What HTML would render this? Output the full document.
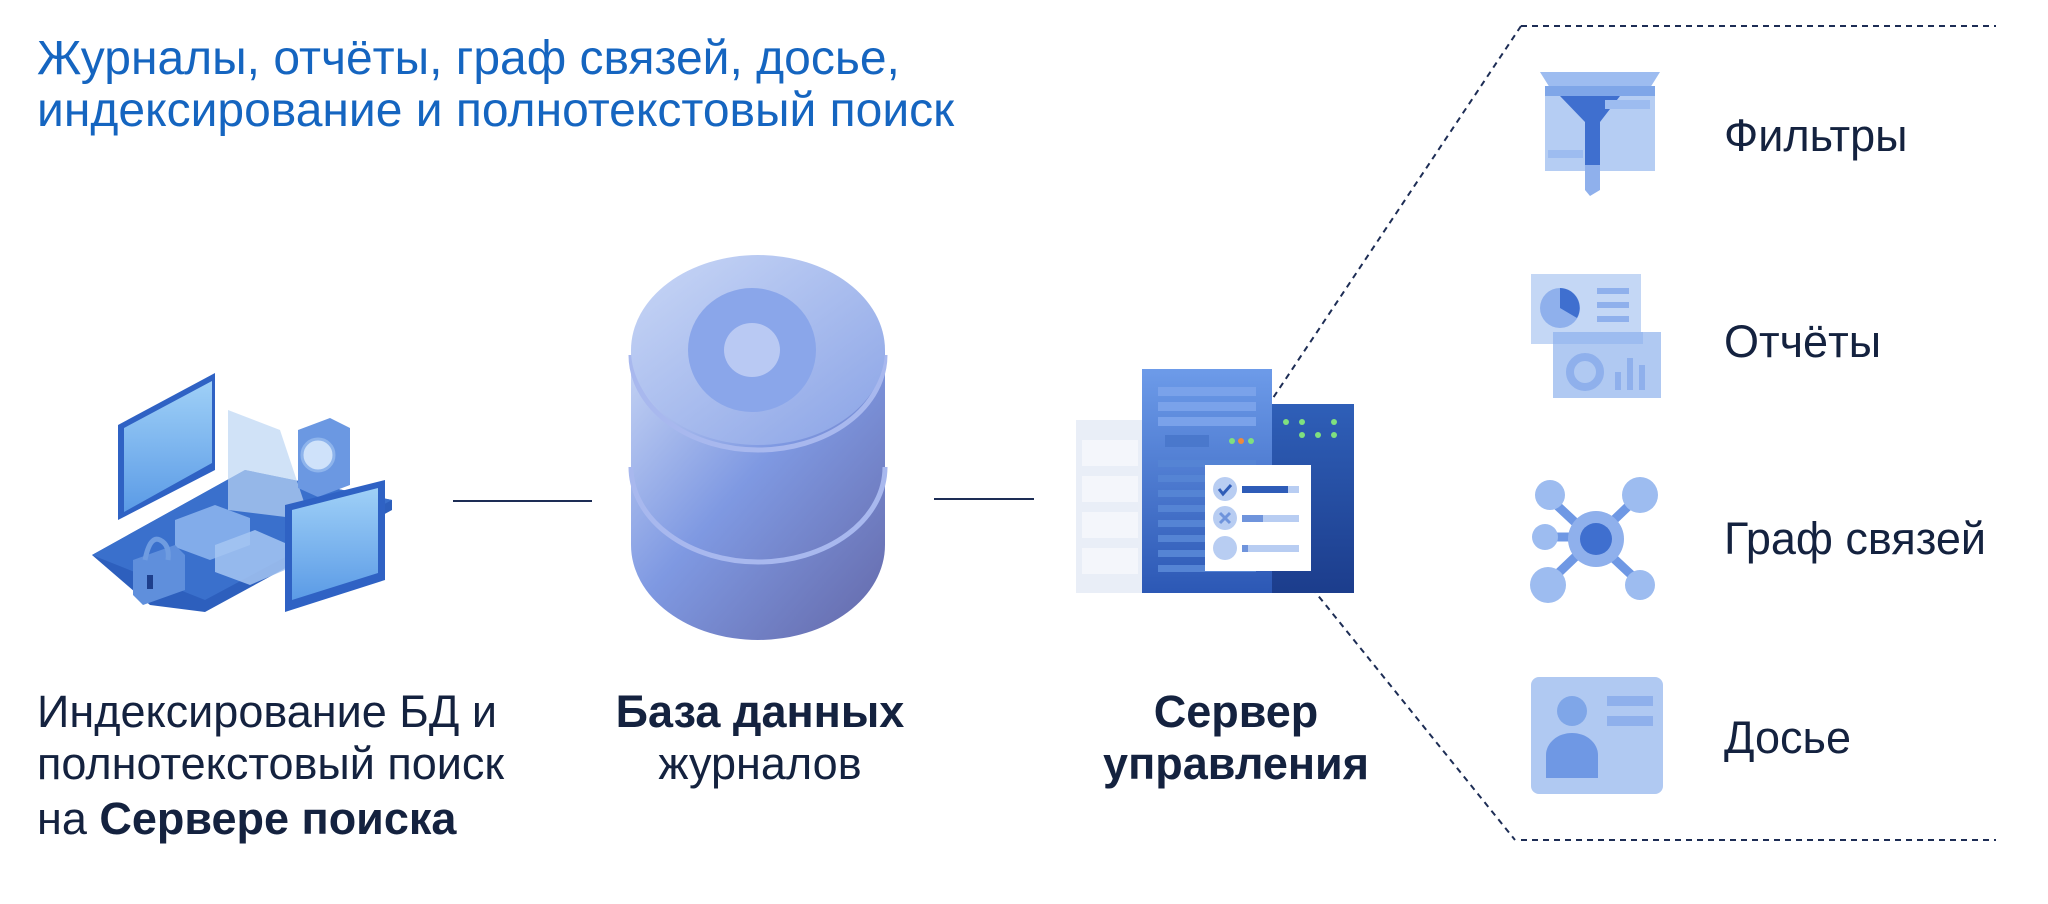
<!DOCTYPE html>
<html><head><meta charset="utf-8"><style>
html,body{margin:0;padding:0;background:#fff;}
body{width:2048px;height:904px;position:relative;overflow:hidden;font-family:"Liberation Sans",Arial,sans-serif;}
.t{position:absolute;white-space:nowrap;color:#14223f;font-size:45px;line-height:1;}
.title{color:#1565c0;font-size:48px;}
b{font-weight:bold;}
</style></head><body>
<svg width="2048" height="904" style="position:absolute;left:0;top:0">
<defs>
<linearGradient id="db" x1="0" y1="0" x2="1" y2="1">
<stop offset="0" stop-color="#c6d4f4"/><stop offset="0.45" stop-color="#7f99e2"/><stop offset="1" stop-color="#6468a8"/></linearGradient>
<linearGradient id="dbtop" x1="0" y1="0" x2="1" y2="1">
<stop offset="0" stop-color="#c9d7f6"/><stop offset="1" stop-color="#8aa3e6"/></linearGradient>
<linearGradient id="tw" x1="0" y1="0" x2="0" y2="1">
<stop offset="0" stop-color="#6d9be9"/><stop offset="1" stop-color="#2c58b5"/></linearGradient>
<linearGradient id="tw2" x1="0" y1="0" x2="0" y2="1">
<stop offset="0" stop-color="#2f5fb8"/><stop offset="1" stop-color="#1c3d8c"/></linearGradient>
<linearGradient id="mon" x1="0" y1="0" x2="0" y2="1">
<stop offset="0" stop-color="#9fd0f7"/><stop offset="1" stop-color="#5b9be6"/></linearGradient>
</defs>
<g stroke="#1d2d55" stroke-width="2" stroke-dasharray="6,5" fill="none">
<line x1="1521" y1="26" x2="1996" y2="26"/>
<line x1="1521" y1="840" x2="1996" y2="840"/>
<line x1="1521" y1="26" x2="1273" y2="398"/>
<line x1="1312" y1="588" x2="1515" y2="840"/>
</g>
<line x1="453" y1="501" x2="592" y2="501" stroke="#1d2d55" stroke-width="2"/>
<line x1="934" y1="499" x2="1034" y2="499" stroke="#1d2d55" stroke-width="2"/>
<path d="M631,350 L631,545 A127,95 0 0 0 885,545 L885,350 Z" fill="url(#db)"/>
<path d="M631,355 A127,95 0 0 0 885,355" stroke="#a8b8ee" stroke-width="5" fill="none"/>
<path d="M631,467 A127,95 0 0 0 885,467" stroke="#a8b8ee" stroke-width="5" fill="none"/>
<ellipse cx="758" cy="350" rx="127" ry="95" fill="url(#dbtop)"/>
<ellipse cx="752" cy="350" rx="64" ry="62" fill="#8aa6ea"/>
<ellipse cx="752" cy="350" rx="28" ry="27" fill="#b9c9f3"/>
<rect x="1076" y="420" width="66" height="173" fill="#e9eef7"/>
<g fill="#f4f6fb"><rect x="1082" y="440" width="56" height="26"/><rect x="1082" y="476" width="56" height="26"/><rect x="1082" y="512" width="56" height="26"/><rect x="1082" y="548" width="56" height="26"/></g>
<rect x="1142" y="369" width="130" height="224" fill="url(#tw)"/>
<g fill="#7aa2ea"><rect x="1158" y="387" width="98" height="9"/><rect x="1158" y="402" width="98" height="9"/><rect x="1158" y="417" width="98" height="9"/></g>
<rect x="1165" y="435" width="44" height="12" fill="#4a78cc"/>
<circle cx="1232" cy="441" r="3" fill="#7fe07f"/><circle cx="1241" cy="441" r="3" fill="#f08a3a"/><circle cx="1251" cy="441" r="3" fill="#7fe07f"/>
<g fill="#5584d4"><rect x="1158" y="460" width="98" height="7"/><rect x="1158" y="475" width="98" height="7"/><rect x="1158" y="490" width="98" height="7"/><rect x="1158" y="505" width="98" height="7"/><rect x="1158" y="520" width="98" height="7"/><rect x="1158" y="535" width="98" height="7"/><rect x="1158" y="550" width="98" height="7"/><rect x="1158" y="565" width="98" height="7"/></g>
<rect x="1272" y="404" width="82" height="189" fill="url(#tw2)"/>
<g fill="#7fe07f"><circle cx="1286" cy="422" r="3"/><circle cx="1302" cy="422" r="3"/><circle cx="1334" cy="422" r="3"/><circle cx="1302" cy="435" r="3"/><circle cx="1318" cy="435" r="3"/><circle cx="1334" cy="435" r="3"/></g>
<rect x="1205" y="465" width="106" height="106" fill="#fff"/>
<circle cx="1225" cy="489" r="12" fill="#b8cdf2"/><path d="M1219,489 l4,5 l8,-9" stroke="#2e5cb8" stroke-width="3" fill="none"/>
<circle cx="1225" cy="518" r="12" fill="#b8cdf2"/><path d="M1220,513 l10,10 M1230,513 l-10,10" stroke="#6f94dc" stroke-width="3"/>
<circle cx="1225" cy="548" r="12" fill="#b8cdf2"/>
<rect x="1242" y="486" width="57" height="7" fill="#b8cdf2"/><rect x="1242" y="486" width="46" height="7" fill="#2e5cb8"/>
<rect x="1242" y="515" width="57" height="7" fill="#b8cdf2"/><rect x="1242" y="515" width="21" height="7" fill="#6f94dc"/>
<rect x="1242" y="545" width="57" height="7" fill="#b8cdf2"/><rect x="1242" y="545" width="6" height="7" fill="#6f94dc"/>
<path d="M92,555 L245,470 L392,500 L392,510 L205,612 L150,605 Z" fill="#2d5fbd"/>
<path d="M92,555 L245,470 L392,500 L205,600 Z" fill="#3a70cc"/>
<path d="M118,425 L215,373 L215,470 L118,520 Z" fill="#2f62c4"/>
<path d="M124,428 L212,381 L212,463 L124,512 Z" fill="url(#mon)"/>
<path d="M228,410 L280,430 L310,520 L228,510 Z" fill="#bcd6f4" opacity="0.7"/>
<path d="M298,430 L330,418 L350,428 L350,485 L318,497 L298,488 Z" fill="#6b98e2"/>
<circle cx="318" cy="455" r="16" fill="#cfe2fa" stroke="#8eb4ec" stroke-width="3"/>
<path d="M175,520 L215,505 L250,518 L250,545 L210,560 L175,547 Z" fill="#8fb6ee" opacity="0.85"/>
<path d="M215,545 L255,530 L285,543 L285,570 L250,585 L215,572 Z" fill="#a6c6f2" opacity="0.85"/>
<path d="M133,560 L175,545 L185,555 L185,590 L143,605 L133,595 Z" fill="#5f8fdc"/>
<path d="M145,560 Q150,535 160,540 Q170,545 168,560" stroke="#6f9ce0" stroke-width="5" fill="none"/>
<rect x="147" y="575" width="6" height="14" fill="#1e3f8c"/>
<path d="M285,505 L385,480 L385,580 L285,612 Z" fill="#2f62c4"/>
<path d="M292,510 L378,488 L378,573 L292,600 Z" fill="url(#mon)"/>
<rect x="1545" y="86" width="110" height="85" fill="#b5cdf3"/>
<path d="M1540,72 L1660,72 L1650,88 L1550,88 Z" fill="#9dbcf0"/>
<rect x="1545" y="86" width="110" height="10" fill="#7fa6e8"/>
<path d="M1560,96 L1620,96 L1600,122 L1600,165 L1585,165 L1585,122 Z" fill="#3f6fcf"/>
<path d="M1585,165 L1600,165 L1600,190 L1590,196 L1585,190 Z" fill="#8fb0ec"/>
<rect x="1605" y="100" width="45" height="9" fill="#9dbcf0"/><rect x="1548" y="150" width="35" height="8" fill="#9dbcf0"/>
<rect x="1531" y="274" width="110" height="70" fill="#c4d7f5"/>
<circle cx="1560" cy="308" r="20" fill="#8fb0ec"/><path d="M1560,308 L1560,288 A20,20 0 0 1 1577,318 Z" fill="#3f6fcf"/>
<rect x="1597" y="288" width="32" height="6" fill="#8fb0ec"/><rect x="1597" y="302" width="32" height="6" fill="#8fb0ec"/><rect x="1597" y="316" width="32" height="6" fill="#8fb0ec"/>
<rect x="1553" y="332" width="108" height="66" fill="#b0c9f2"/>
<rect x="1553" y="332" width="90" height="12" fill="#9dbcf0"/>
<circle cx="1585" cy="372" r="15" fill="none" stroke="#8fb0ec" stroke-width="8"/>
<rect x="1615" y="372" width="6" height="18" fill="#8fb0ec"/><rect x="1627" y="358" width="6" height="32" fill="#8fb0ec"/><rect x="1639" y="365" width="6" height="25" fill="#8fb0ec"/>
<g stroke="#6f98e4" stroke-width="9"><line x1="1548" y1="497" x2="1640" y2="583"/><line x1="1640" y1="495" x2="1548" y2="583"/><line x1="1545" y1="537" x2="1595" y2="537"/></g>
<circle cx="1550" cy="495" r="15" fill="#9dbcf0"/><circle cx="1640" cy="495" r="18" fill="#9dbcf0"/>
<circle cx="1545" cy="537" r="13" fill="#9dbcf0"/><circle cx="1548" cy="585" r="18" fill="#9dbcf0"/><circle cx="1640" cy="585" r="15" fill="#9dbcf0"/>
<circle cx="1596" cy="539" r="28" fill="#8fb0ec"/><circle cx="1596" cy="539" r="16" fill="#3f6fcf"/>
<rect x="1531" y="677" width="132" height="117" rx="8" fill="#b0c9f2"/>
<circle cx="1572" cy="711" r="15" fill="#7fa6e8"/>
<path d="M1546,778 L1546,755 A26,22 0 0 1 1598,755 L1598,778 Z" fill="#6f98e4"/>
<rect x="1607" y="696" width="46" height="10" fill="#8fb0ec"/><rect x="1607" y="716" width="46" height="10" fill="#8fb0ec"/>
</svg>
<div class="t title" style="left:37px;top:35px;">Журналы, отчёты, граф связей, досье,</div>
<div class="t title" style="left:37px;top:87px;">индексирование и полнотекстовый поиск</div>
<div class="t" style="left:37px;top:689px;">Индексирование БД и</div>
<div class="t" style="left:37px;top:741px;">полнотекстовый поиск</div>
<div class="t" style="left:37px;top:796px;">на <b>Сервере поиска</b></div>
<div class="t" style="left:760px;top:689px;transform:translateX(-50%);"><b>База данных</b></div>
<div class="t" style="left:760px;top:741px;transform:translateX(-50%);">журналов</div>
<div class="t" style="left:1236px;top:689px;transform:translateX(-50%);"><b>Сервер</b></div>
<div class="t" style="left:1236px;top:741px;transform:translateX(-50%);"><b>управления</b></div>
<div class="t" style="left:1724px;top:113px;">Фильтры</div>
<div class="t" style="left:1724px;top:319px;">Отчёты</div>
<div class="t" style="left:1724px;top:516px;">Граф связей</div>
<div class="t" style="left:1724px;top:715px;">Досье</div>
</body></html>
